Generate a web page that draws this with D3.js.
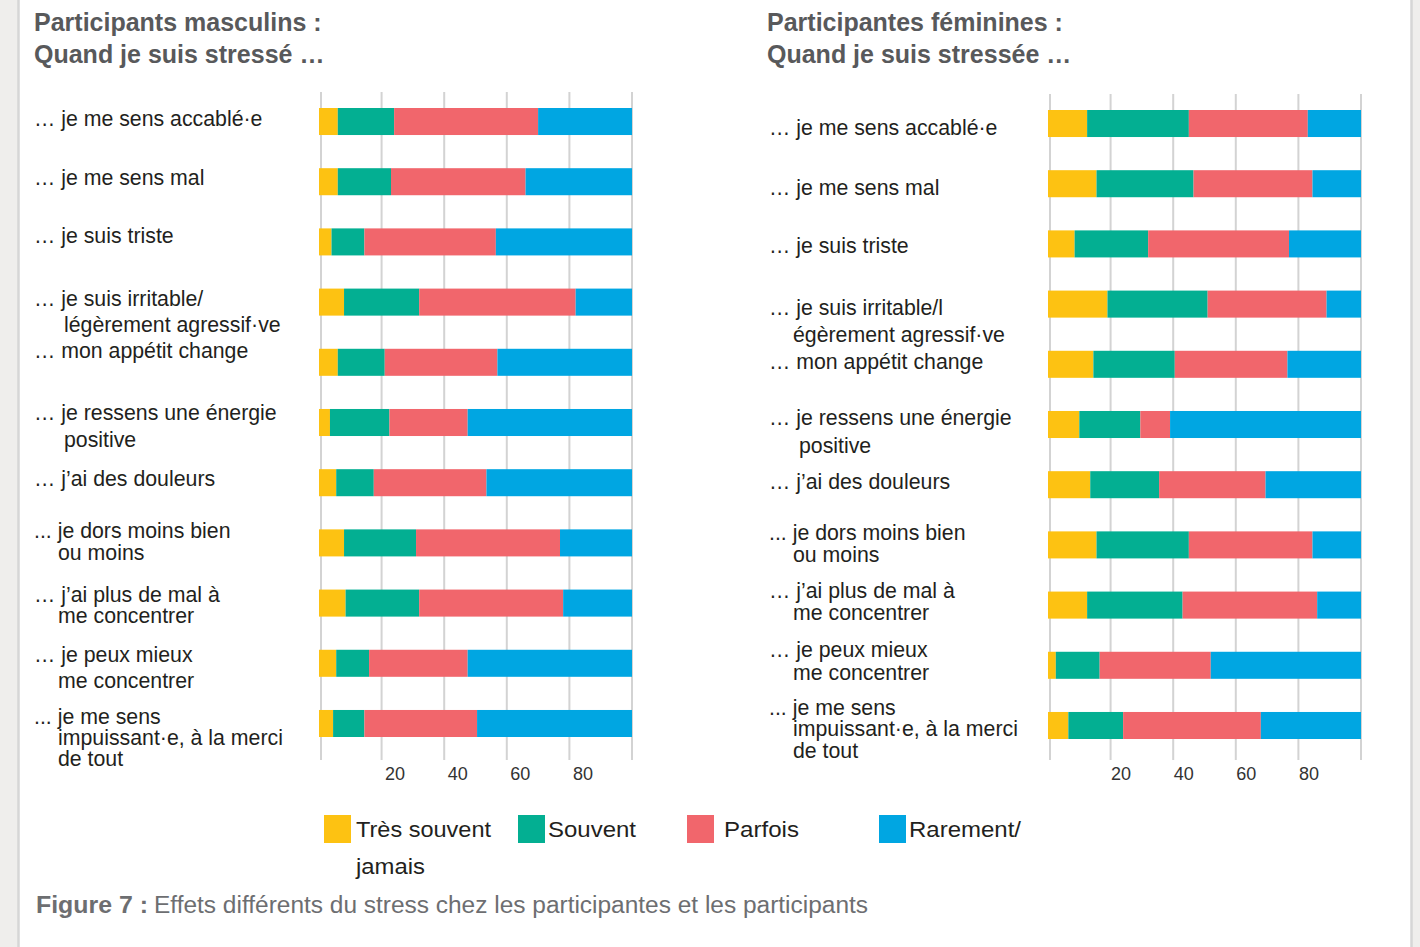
<!DOCTYPE html>
<html lang="fr">
<head>
<meta charset="utf-8">
<script src="https://cdn.jsdelivr.net/npm/d3@7"></script>
<style>
  html, body { margin: 0; padding: 0; background: #efeeec; }
  svg { display: block; font-family: "Liberation Sans", Arial, Helvetica, sans-serif; }
</style>
</head>
<body>
<svg id="fig" width="1420" height="947"></svg>
<script>
// ---- Data -------------------------------------------------------------
const seriesNames = ["Très souvent", "Souvent", "Parfois", "Rarement/"];
const seriesKeys = ["tresSouvent", "souvent", "parfois", "rarement"];

const categoriesMen = [
  ["… je me sens accablé·e"],
  ["… je me sens mal"],
  ["… je suis triste"],
  ["… je suis irritable/", "légèrement agressif·ve"],
  ["… mon appétit change"],
  ["… je ressens une énergie", "positive"],
  ["… j’ai des douleurs"],
  ["... je dors moins bien", "ou moins"],
  ["… j’ai plus de mal à", "me concentrer"],
  ["… je peux mieux", "me concentrer"],
  ["... je me sens", "impuissant·e, à la merci", "de tout"]
];
const tresSouventMen = [6, 6, 4, 8, 6, 3.5, 5.5, 8, 8.5, 5.5, 4.5];
const souventMen     = [18, 17, 10.5, 24, 15, 19, 12, 23, 23.5, 10.5, 10];
const parfoisMen     = [46, 43, 42, 50, 36, 25, 36, 46, 46, 31.5, 36];
const rarementMen    = [30, 34, 43.5, 18, 43, 52.5, 46.5, 23, 22, 52.5, 49.5];

const categoriesWomen = [
  ["… je me sens accablé·e"],
  ["… je me sens mal"],
  ["… je suis triste"],
  ["… je suis irritable/l", "égèrement agressif·ve"],
  ["… mon appétit change"],
  ["… je ressens une énergie", "positive"],
  ["… j’ai des douleurs"],
  ["... je dors moins bien", "ou moins"],
  ["… j’ai plus de mal à", "me concentrer"],
  ["… je peux mieux", "me concentrer"],
  ["... je me sens", "impuissant·e, à la merci", "de tout"]
];
const tresSouventWomen = [12.5, 15.5, 8.5, 19, 14.5, 10, 13.5, 15.5, 12.5, 2.5, 6.5];
const souventWomen     = [32.5, 31, 23.5, 32, 26, 19.5, 22, 29.5, 30.5, 14, 17.5];
const parfoisWomen     = [38, 38, 45, 38, 36, 9.5, 34, 39.5, 43, 35.5, 44];
const rarementWomen    = [17, 15.5, 23, 11, 23.5, 61, 30.5, 15.5, 14, 48, 32];

const tickValues = [20, 40, 60, 80];
const gridValues = [0, 20, 40, 60, 80, 100];

const titlesMen = ["Participants masculins :", "Quand je suis stressé …"];
const titlesWomen = ["Participantes féminines :", "Quand je suis stressée …"];
const captionBold = "Figure 7 :";
const captionText = "Effets différents du stress chez les participantes et les participants";

// ---- Styles & layout --------------------------------------------------
const colors = ["#fdc212", "#03af92", "#f1666c", "#00a6e2"];
const gridColor = "#d3d3d3";
const labelColor = "#231f20";
const titleColor = "#58595b";
const captionColor = "#6d6e71";

// per-row label tweaks: vertical shift of first line relative to bar centre,
// spacing between wrapped lines, indent of wrapped lines
const panels = [
  {
    titles: titlesMen, titleX: 34,
    categories: categoriesMen,
    values: [tresSouventMen, souventMen, parfoisMen, rarementMen],
    xRange: [319, 632], yRange: [108, 737], gridY: [92, 760],
    labelX: 34,
    nudge: [-3, -4, -6, -4, -12, -10, -4, -12, -9, -9, -7],
    gap:   [24, 24, 24, 26, 24, 27, 24, 22, 21, 26, 21],
    indent:[0, 0, 0, 30, 0, 30, 0, 24, 24, 24, 24],
    tickDx: 13
  },
  {
    titles: titlesWomen, titleX: 767,
    categories: categoriesWomen,
    values: [tresSouventWomen, souventWomen, parfoisWomen, rarementWomen],
    xRange: [1048, 1361], yRange: [110, 739], gridY: [94, 760],
    labelX: 769,
    nudge: [4, 4, 2, 3, -3, -7, -3, -12, -15, -16, -18],
    gap:   [24, 24, 24, 27, 24, 28, 24, 22, 22, 23, 21.5],
    indent:[0, 0, 0, 24, 0, 30, 0, 24, 24, 24, 24],
    tickDx: 10
  }
];

const svg = d3.select("#fig");

// page frame
svg.append("rect").attr("x", 0).attr("y", 0).attr("width", 1420).attr("height", 947).attr("fill", "#efeeec");
svg.append("rect").attr("x", 19).attr("y", 0).attr("width", 1393).attr("height", 947).attr("fill", "#ffffff");
svg.append("line").attr("x1", 18.5).attr("x2", 18.5).attr("y1", 0).attr("y2", 947)
  .attr("stroke", "#d6d6d6").attr("stroke-width", 2.5);
svg.append("line").attr("x1", 1411.5).attr("x2", 1411.5).attr("y1", 0).attr("y2", 947)
  .attr("stroke", "#d6d6d6").attr("stroke-width", 2.5);

panels.forEach(p => {
  const n = p.categories.length;
  const rows = d3.range(n).map(i => {
    const r = { idx: i };
    seriesKeys.forEach((k, s) => { r[k] = p.values[s][i]; });
    return r;
  });
  const stacked = d3.stack().keys(seriesKeys)(rows);

  const x = d3.scaleLinear().domain([0, 100]).range(p.xRange);
  const y = d3.scaleBand().domain(d3.range(n)).range(p.yRange)
    .paddingInner(0.551).paddingOuter(0);

  const g = svg.append("g");

  // titles
  g.selectAll("text.title").data(p.titles).join("text")
    .attr("class", "title")
    .attr("x", p.titleX)
    .attr("y", (d, i) => 31 + i * 32)
    .attr("font-size", 25).attr("font-weight", "bold")
    .attr("fill", titleColor)
    .text(d => d);

  // vertical gridlines
  g.selectAll("line.grid").data(gridValues).join("line")
    .attr("class", "grid")
    .attr("x1", d => x(d) + (d === 0 ? 2 : 0))
    .attr("x2", d => x(d) + (d === 0 ? 2 : 0))
    .attr("y1", p.gridY[0]).attr("y2", p.gridY[1])
    .attr("stroke", gridColor).attr("stroke-width", 2);

  // stacked bars
  g.selectAll("g.series").data(stacked).join("g")
    .attr("class", "series")
    .attr("fill", (d, i) => colors[i])
    .selectAll("rect").data(d => d).join("rect")
    .attr("x", d => x(d[0]))
    .attr("width", d => x(d[1]) - x(d[0]))
    .attr("y", d => y(d.data.idx))
    .attr("height", y.bandwidth());

  // tick labels
  const axis = d3.axisBottom(x).tickValues(tickValues).tickSize(0).tickFormat(d3.format("d"));
  const ax = g.append("g").attr("transform", `translate(0, ${p.gridY[1] - 2})`).call(axis);
  ax.select(".domain").remove();
  ax.selectAll("text")
    .attr("font-family", "'Liberation Sans', Arial, sans-serif")
    .attr("font-size", 18)
    .attr("fill", "#333333")
    .attr("dx", p.tickDx)
    .attr("dy", "1.05em");

  // category labels
  const lab = g.selectAll("text.cat").data(p.categories).join("text")
    .attr("class", "cat")
    .attr("font-size", 21.3)
    .attr("fill", labelColor);
  lab.each(function(lines, i) {
    const cy = y(i) + y.bandwidth() / 2 + p.nudge[i];
    d3.select(this).selectAll("tspan").data(lines).join("tspan")
      .attr("x", (d, j) => p.labelX + (j > 0 ? p.indent[i] : 0))
      .attr("y", (d, j) => cy + j * p.gap[i])
      .attr("dy", "0.35em")
      .text(d => d);
  });
});

// legend
const legendSwatchX = [324, 518, 687, 879];
const legendTextX = [356, 548, 724, 909];
const leg = svg.append("g");
leg.selectAll("rect").data(seriesNames).join("rect")
  .attr("x", (d, i) => legendSwatchX[i]).attr("y", 815)
  .attr("width", 27).attr("height", 28)
  .attr("fill", (d, i) => colors[i]);
leg.selectAll("text").data(seriesNames).join("text")
  .attr("x", (d, i) => legendTextX[i]).attr("y", 837)
  .attr("font-size", 22).attr("fill", labelColor)
  .attr("textLength", (d, i) => [135, 88, 75, 112][i])
  .attr("lengthAdjust", "spacingAndGlyphs")
  .text(d => d);
leg.append("text")
  .attr("x", 356).attr("y", 874)
  .attr("font-size", 22).attr("fill", labelColor)
  .attr("textLength", 69).attr("lengthAdjust", "spacingAndGlyphs")
  .text("jamais");

// caption
const cap = svg.append("g").attr("fill", captionColor).attr("font-size", 23);
cap.append("text").attr("x", 36).attr("y", 913)
  .attr("font-weight", "bold")
  .attr("textLength", 112).attr("lengthAdjust", "spacingAndGlyphs")
  .text(captionBold);
cap.append("text").attr("x", 154).attr("y", 913)
  .attr("textLength", 714).attr("lengthAdjust", "spacingAndGlyphs")
  .text(captionText);
</script>
</body>
</html>
